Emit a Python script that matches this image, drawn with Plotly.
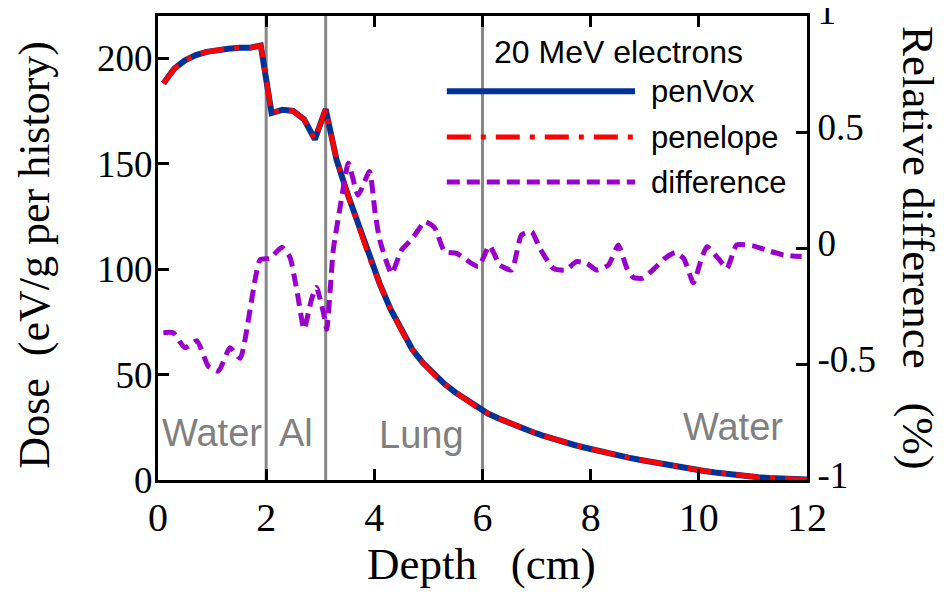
import plotly.graph_objects as go

# ---------------- data ----------------
depth = [0.1, 0.3, 0.5, 0.7, 0.9, 1.1, 1.3, 1.5, 1.7, 1.9,
         2.1, 2.3, 2.5, 2.7, 2.9, 3.1,
         3.3, 3.5, 3.7, 3.9, 4.1, 4.3, 4.5, 4.7, 4.9, 5.1, 5.3, 5.5, 5.7, 5.9,
         6.1, 6.3, 6.5, 6.7, 6.9, 7.1, 7.3, 7.5, 7.7, 7.9, 8.1, 8.3, 8.5, 8.7, 8.9,
         9.1, 9.3, 9.5, 9.7, 9.9, 10.1, 10.3, 10.5, 10.7, 10.9, 11.1, 11.3, 11.5,
         11.7, 11.9, 12.0]
dose_penvox = [188, 195, 199, 201.5, 203, 204, 204.5, 205, 205, 206,
               174, 175.5, 175, 171, 161.5, 175.8,
               152, 136, 121, 106, 93, 81, 71, 62, 55.5, 50, 45.5, 41.5, 38, 34.5,
               31.5, 29.2, 27, 25, 23, 21.2, 19.5, 18, 16.6, 15.3, 14, 12.8, 11.7, 10.6, 9.6,
               8.6, 7.7, 6.8, 5.9, 5.1, 4.3, 3.6, 2.9, 2.3, 1.8, 1.3, 0.9, 0.6,
               0.4, 0.3, 0.2]
dose_penelope = [188, 195, 199, 201.5, 203, 204, 204.5, 205, 205, 206,
                 174, 175.5, 175, 171, 161.5, 175.8,
                 152, 136, 121, 106, 93, 81, 71, 62, 55.5, 50, 45.5, 41.5, 38, 34.5,
                 31.5, 29.2, 27, 25, 23, 21.2, 19.5, 18, 16.6, 15.3, 14, 12.8, 11.7, 10.6, 9.6,
                 8.6, 7.7, 6.8, 5.9, 5.1, 4.3, 3.6, 2.9, 2.3, 1.8, 1.3, 0.9, 0.6,
                 0.4, 0.3, 0.2]

diff_depth = [0.1, 0.28, 0.5, 0.72, 0.93, 1.12, 1.33, 1.52, 1.89, 2.07, 2.29, 2.44,
              2.58, 2.7, 2.84, 2.93, 3.06, 3.12, 3.24, 3.37, 3.52, 3.7, 3.91, 4.01,
              4.1, 4.32, 4.5, 4.7, 4.94, 5.12, 5.3, 5.52, 5.92, 6.13, 6.32, 6.54,
              6.72, 6.91, 7.06, 7.31, 7.53, 7.74, 7.93, 8.11, 8.33, 8.51, 8.67, 8.79,
              8.97, 9.17, 9.37, 9.56, 9.72, 9.9, 10.05, 10.15, 10.36, 10.52, 10.7,
              11.0, 11.25, 11.56, 11.9]
rel_diff = [-0.365, -0.365, -0.43, -0.40, -0.51, -0.53, -0.43, -0.475, -0.05, -0.045,
            0.003, -0.04, -0.2, -0.35, -0.22, -0.17, -0.28, -0.35, -0.01, 0.18,
            0.365, 0.228, 0.33, 0.16, 0.035, -0.11, -0.01, 0.04, 0.113, 0.085,
            -0.016, -0.023, -0.08, 0.01, -0.073, -0.095, 0.056, 0.07, -0.001,
            -0.088, -0.095, -0.059, -0.066, -0.095, -0.073, 0.013, -0.088, -0.127,
            -0.13, -0.09, -0.045, -0.02, -0.045, -0.15, -0.045, 0.006, -0.045,
            -0.088, 0.013, 0.009, -0.009, -0.03, -0.037]

boundaries = [2.0, 3.1, 6.0]
region_names = ["Water", "Al", "Lung", "Water"]
series_names = ["penVox", "penelope", "difference"]
legend_title = "20 MeV electrons"
y2_ticks = [-1, -0.5, 0, 0.5, 1]
y2_ticktext = ["-1", "-0.5", "0", "0.5", "1"]

# ---------------- style ----------------
SERIF = "Liberation Serif, Times New Roman, serif"
SANS = "Liberation Sans, Arial, sans-serif"
BLUE = "#003399"
RED = "#ff0000"
PURPLE = "#9900cc"
GREY = "#888888"
styles = [dict(color=BLUE, width=6, dash="solid"),
          dict(color=RED, width=5, dash="24px,10px,5px,10px"),
          dict(color=PURPLE, width=5, dash="13px,7px")]

fig = go.Figure()
fig.add_trace(go.Scatter(x=depth, y=dose_penvox, mode="lines", name=series_names[0],
                         line=styles[0], yaxis="y"))
fig.add_trace(go.Scatter(x=depth, y=dose_penelope, mode="lines", name=series_names[1],
                         line=styles[1], yaxis="y"))
fig.add_trace(go.Scatter(x=diff_depth, y=rel_diff, mode="lines", name=series_names[2],
                         line=dict(**styles[2], shape="spline", smoothing=0.5), yaxis="y2"))

shapes = []
for b in boundaries:
    shapes.append(dict(type="line", xref="x", yref="paper", x0=b, x1=b, y0=0, y1=1,
                       line=dict(color=GREY, width=3), layer="below"))

# legend samples (paper coords)
leg_y = [0.838, 0.739, 0.642]
for st, yy in zip(styles, leg_y):
    shapes.append(dict(type="line", xref="paper", yref="paper", x0=0.445, x1=0.735,
                       y0=yy, y1=yy, line=dict(color=st["color"], width=st["width"],
                                               dash=st["dash"])))

annotations = []
# region labels
region_pos = [(1.0, 22.5), (2.56, 22.5), (4.88, 21.5), (10.63, 25)]
for name, (xx, yy) in zip(region_names, region_pos):
    annotations.append(dict(x=xx, y=yy, xref="x", yref="y", text=name, showarrow=False,
                            font=dict(family=SANS, size=38, color="#808080"),
                            xanchor="center", yanchor="middle"))
# legend texts
annotations.append(dict(x=0.515, y=0.922, xref="paper", yref="paper", text=legend_title,
                        showarrow=False, xanchor="left", yanchor="middle",
                        font=dict(family=SANS, size=32, color="black")))
for nm, yy in zip(series_names, leg_y):
    annotations.append(dict(x=0.757, y=yy, xref="paper", yref="paper", text=nm,
                            showarrow=False, xanchor="left", yanchor="middle",
                            font=dict(family=SANS, size=31, color="black")))
# axis titles
annotations.append(dict(x=-0.19, y=0.485, xref="paper", yref="paper",
                        text="Dose\u00a0\u00a0(eV/g per history)", textangle=-90,
                        showarrow=False, xanchor="center", yanchor="middle",
                        font=dict(family=SERIF, size=44, color="black")))
annotations.append(dict(x=1.172, y=0.501, xref="paper", yref="paper",
                        text="Relative difference\u00a0\u00a0\u00a0(%)", textangle=90,
                        showarrow=False, xanchor="center", yanchor="middle",
                        font=dict(family=SERIF, size=45, color="black")))
annotations.append(dict(x=0.498, y=-0.18, xref="paper", yref="paper",
                        text="Depth\u00a0\u00a0\u00a0(cm)",
                        showarrow=False, xanchor="center", yanchor="middle",
                        font=dict(family=SERIF, size=45, color="black")))

axis_common = dict(showgrid=False, zeroline=False, showline=True, linecolor="black",
                   linewidth=3, ticks="inside", ticklen=11, tickwidth=3, tickcolor="black",
                   automargin=False)

# page body has an 8px margin: figure is sized/offset so the plot frame sits at
# x 158..807, y 16..480 of the 944x595 window
fig.update_layout(
    width=936, height=587,
    margin=dict(l=150, r=137, t=8, b=115),
    paper_bgcolor="white", plot_bgcolor="white",
    showlegend=False,
    xaxis=dict(range=[0, 12], tickvals=[0, 2, 4, 6, 8, 10, 12], mirror="ticks",
               tickfont=dict(family=SERIF, size=40, color="black"), **axis_common),
    yaxis=dict(range=[0, 220], tickvals=[0, 50, 100, 150, 200], mirror=False,
               ticklabelstandoff=-5,
               tickfont=dict(family=SERIF, size=37, color="black"), **axis_common),
    yaxis2=dict(range=[-1, 1], overlaying="y", side="right", tickvals=y2_ticks,
                ticktext=y2_ticktext, ticklabeloverflow="allow", ticklabelshift=-5,
                tickfont=dict(family=SERIF, size=37, color="black"), **axis_common),
    shapes=shapes,
    annotations=annotations,
)

fig.write_html("out.html")
